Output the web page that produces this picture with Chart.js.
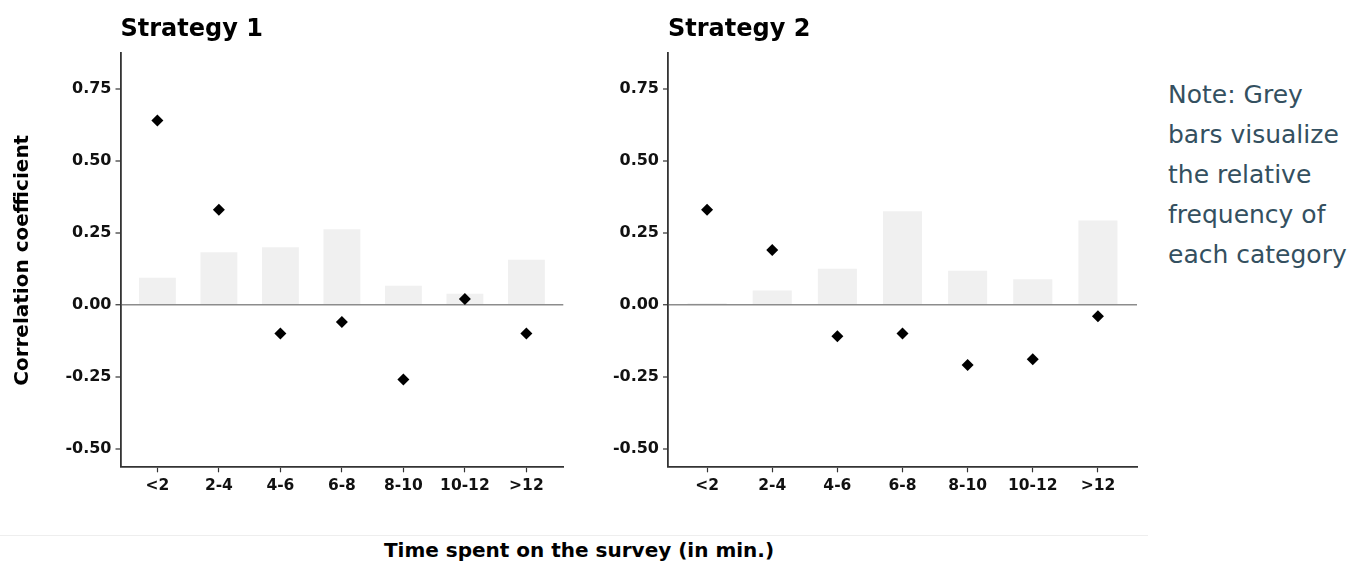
<!DOCTYPE html>
<html>
<head>
<meta charset="utf-8">
<script src="https://cdn.jsdelivr.net/npm/chart.js@4.4.1/dist/chart.umd.min.js"></script>
<style>
  body { margin: 0; background: #fff; width: 1365px; height: 563px; overflow: hidden; position: relative; }
  canvas { position: absolute; top: 0; }
  #c1 { left: 0; }
  #c2 { left: 600px; }
  .note { position: absolute; left: 1168px; top: 75px; font: 25px/40px 'DejaVu Sans'; color: #345060; }
  .xtitle { position: absolute; left: 379px; width: 400px; top: 538px; text-align: center; font: bold 20px/24px 'DejaVu Sans'; color: #000; white-space: nowrap; }
  .rule { position: absolute; left: 0; top: 535px; width: 1148px; height: 1px; background: #eeeeee; }
</style>
</head>
<body>
<canvas id="c1" width="580" height="520"></canvas>
<canvas id="c2" width="560" height="520"></canvas>
<div class="rule"></div>
<div class="xtitle">Time spent on the survey (in min.)</div>
<div class="note">Note: Grey<br>bars visualize<br>the relative<br>frequency of<br>each category</div>
<script>
// data
var categories = ['<2', '2-4', '4-6', '6-8', '8-10', '10-12', '>12']
var s1Corr = [0.64, 0.33, -0.10, -0.06, -0.26, 0.02, -0.10]
var s1Freq = [0.093, 0.182, 0.199, 0.262, 0.066, 0.038, 0.156]
var s2Corr = [0.33, 0.19, -0.11, -0.10, -0.21, -0.19, -0.04]
var s2Freq = [0.005, 0.049, 0.125, 0.324, 0.118, 0.088, 0.292]
var yTicks = [-0.5, -0.25, 0, 0.25, 0.5, 0.75]

Chart.defaults.font.family = 'DejaVu Sans'
Chart.defaults.color = '#111'

function makeChart(id, title, corr, freq, axisWidth, padRight, showYTitle) {
    var pts = corr.map((v, i) => ({ x: i, y: v }))
    var bars = freq.map((v, i) => ({ x: i, y: v }))
    return new Chart(document.getElementById(id), {
        type: 'bar',
        data: {
            datasets: [
                {
                    type: 'scatter',
                    data: pts,
                    pointStyle: 'rectRot',
                    pointRadius: 6,
                    backgroundColor: '#000',
                    borderWidth: 0,
                    order: 0
                },
                {
                    type: 'bar',
                    data: bars,
                    backgroundColor: '#f0f0f0',
                    barPercentage: 0.6,
                    categoryPercentage: 1,
                    order: 1
                }
            ]
        },
        options: {
            responsive: false,
            animation: false,
            layout: { padding: { left: 0, right: padRight, top: 0, bottom: 0 } },
            plugins: {
                legend: { display: false },
                tooltip: { enabled: false },
                title: {
                    display: true,
                    text: title,
                    align: 'start',
                    fullSize: false,
                    color: '#000',
                    font: { size: 24, weight: 'bold' },
                    padding: { top: 15, bottom: 9.5 }
                }
            },
            scales: {
                x: {
                    type: 'linear',
                    min: -0.6,
                    max: 6.6,
                    offset: false,
                    afterBuildTicks: s => { s.ticks = categories.map((c, i) => ({ value: i })) },
                    afterFit: s => { s.height = 52.7 },
                    ticks: {
                        callback: v => categories[v],
                        font: { size: 15.5, weight: 'bold' },
                        padding: 4,
                        maxRotation: 0
                    },
                    grid: { drawOnChartArea: false, offset: false, tickLength: 5, tickColor: '#333', tickWidth: 1.2 },
                    border: { display: true, color: '#333', width: 1.8 }
                },
                y: {
                    min: -0.565,
                    max: 0.873,
                    z: 1,
                    afterBuildTicks: s => { s.ticks = yTicks.map(v => ({ value: v })) },
                    afterFit: s => { s.width = axisWidth },
                    ticks: {
                        callback: v => v.toFixed(2),
                        font: { size: 16, weight: 'bold' },
                        padding: 4
                    },
                    grid: {
                        color: c => c.tick && c.tick.value === 0 ? '#8c8c8c' : 'rgba(0,0,0,0)',
                        lineWidth: c => c.tick && c.tick.value === 0 ? 1.5 : 0,
                        tickLength: 5,
                        tickColor: '#333',
                        tickWidth: 1.2
                    },
                    border: { display: true, color: '#333', width: 1.8 },
                    title: {
                        display: showYTitle,
                        text: 'Correlation coefficient',
                        color: '#000',
                        font: { size: 20, weight: 'bold' },
                        padding: { top: 11, bottom: 0 }
                    }
                }
            }
        }
    })
}

makeChart('c1', 'Strategy 1', s1Corr, s1Freq, 120.5, 16.7, true)
makeChart('c2', 'Strategy 2', s2Corr, s2Freq, 68, 23, false)
</script>
</body>
</html>
